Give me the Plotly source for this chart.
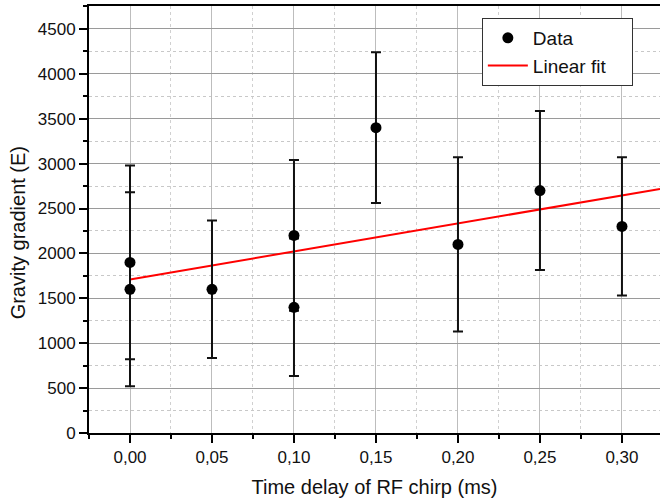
import plotly.graph_objects as go

x_data = [0.00, 0.00, 0.05, 0.10, 0.10, 0.15, 0.20, 0.25, 0.30]
y_data = [1900, 1600, 1600, 2200, 1400, 3400, 2100, 2700, 2300]
y_err = [1080, 1080, 765, 840, 765, 840, 970, 885, 770]

fit_x = [0.0, 0.3232]
fit_y = [1710, 2718]

x_ticks = [0.00, 0.05, 0.10, 0.15, 0.20, 0.25, 0.30]
y_ticks = [0, 500, 1000, 1500, 2000, 2500, 3000, 3500, 4000, 4500]

FONT = "Liberation Sans, Arial, sans-serif"
PAD = "\u00a0" * 4

fig = go.Figure()
fig.add_trace(go.Scatter(
    x=fit_x, y=fit_y, mode="lines", name="Linear fit" + PAD,
    line=dict(color="#ff0000", width=2), showlegend=True,
))
fig.add_trace(go.Scatter(
    x=x_data, y=y_data, mode="markers", name="Data",
    marker=dict(color="#000000", size=11, symbol="circle"),
    error_y=dict(type="data", array=y_err, visible=True, color="#111111",
                 thickness=2, width=5),
))

fig.update_layout(
    width=660, height=500,
    margin=dict(l=89, r=0, t=6, b=67),
    paper_bgcolor="white", plot_bgcolor="white",
    separators=",.",
    font=dict(family=FONT, size=17, color="#111111"),
    legend=dict(
        x=0.688, y=0.972, xanchor="left", yanchor="top",
        bgcolor="white", bordercolor="#333333", borderwidth=1,
        font=dict(size=19, family=FONT), traceorder="reversed",
        itemwidth=40, tracegroupgap=0,
    ),
    xaxis=dict(
        range=[-0.025, 0.3232], automargin=False,
        tickvals=x_ticks, tickformat=".2f",
        ticks="outside", ticklen=8, tickwidth=1.5, tickcolor="#000",
        showline=True, linecolor="#000", linewidth=2, mirror=True,
        showgrid=True, gridcolor="#bdbdbd", gridwidth=1,
        zeroline=False,
        minor=dict(dtick=0.025, tick0=0, ticks="outside", ticklen=4, tickcolor="#000",
                   showgrid=True, gridcolor="#d0d0d0", griddash="dot", gridwidth=1),
        title=dict(text="Time delay of RF chirp (ms)", font=dict(size=20, family=FONT), standoff=14),
        tickfont=dict(size=17, family=FONT),
    ),
    yaxis=dict(
        range=[0, 4755], automargin=False,
        tickvals=y_ticks, tickformat="d",
        ticks="outside", ticklen=8, tickwidth=1.5, tickcolor="#000",
        showline=True, linecolor="#000", linewidth=2,
        showgrid=True, gridcolor="#9a9a9a", gridwidth=1,
        zeroline=False,
        minor=dict(dtick=250, tick0=0, ticks="outside", ticklen=4, tickcolor="#000",
                   showgrid=True, gridcolor="#c8c8c8", griddash="dot", gridwidth=1),
        tickfont=dict(size=17, family=FONT),
    ),
    annotations=[dict(
        text="Gravity gradient (E)", textangle=-90,
        xref="paper", yref="paper", x=-0.124, y=0.468,
        xanchor="center", yanchor="middle", showarrow=False,
        font=dict(size=20, family=FONT, color="#111111"),
    )],
)

fig.write_html("out.html", config={"displayModeBar": False},
               post_script="document.body.style.margin='0';document.body.style.overflow='hidden';")
